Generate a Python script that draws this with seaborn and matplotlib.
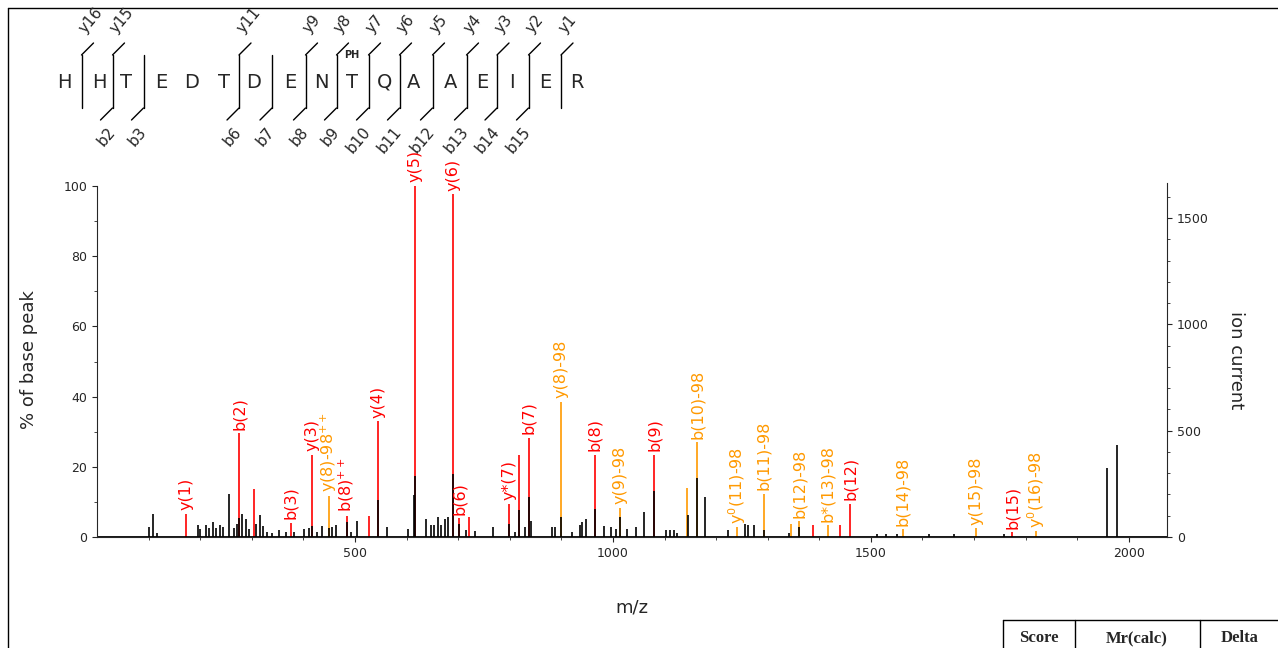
import matplotlib
matplotlib.use("Agg")
import matplotlib.pyplot as plt
import seaborn as sns
import pandas as pd

# ---- matched (labelled) fragment peaks ----
ion_mz = [173, 276, 305, 376, 417, 449, 484, 528, 545, 616, 690, 702, 721, 798, 818, 837,
          900, 965, 1013, 1080, 1144, 1163, 1240, 1292, 1346, 1361, 1387, 1416, 1441, 1460,
          1562, 1703, 1774, 1821]
ion_pct = [6.6, 29.6, 13.7, 4.0, 23.4, 11.7, 6.0, 6.0, 33.0, 100, 97.7, 5.3, 5.6, 9.5, 23.4, 28.3,
           38.5, 23.4, 8.3, 23.4, 14.0, 27.0, 2.8, 12.3, 3.7, 4.5, 3.4, 3.4, 3.4, 9.4,
           2.2, 2.5, 1.4, 1.7]
ion_kind = ["r", "r", "r", "r", "r", "o", "r", "r", "r", "r", "r", "r", "r", "r", "r", "r",
            "o", "r", "o", "r", "o", "o", "o", "o", "o", "o", "r", "o", "r", "r",
            "o", "o", "r", "o"]
ion_label = ["y(1)", "b(2)", "", "b(3)", "y(3)", "y(8)-98$^{++}$", "b(8)$^{++}$", "", "y(4)", "y(5)", "y(6)", "b(6)", "", "y*(7)", "", "b(7)",
             "y(8)-98", "b(8)", "y(9)-98", "b(9)", "", "b(10)-98", "y$^{0}$(11)-98", "b(11)-98", "", "b(12)-98", "", "b*(13)-98", "", "b(12)",
             "b(14)-98", "y(15)-98", "b(15)", "y$^{0}$(16)-98"]

# ---- raw (black) peaks ----
raw_mz = [100, 109, 116, 195, 199, 211, 217, 225, 231, 238, 245, 256, 265, 271, 276, 282, 288, 295,
          308, 315, 321, 330, 340, 353, 366, 382, 401, 411, 417, 427, 436, 449, 456, 463, 484, 492,
          503, 545, 562, 603, 614, 616, 638, 648, 653, 661, 667, 674, 680, 690, 702, 716, 732, 768,
          798, 810, 818, 829, 837, 842, 881, 887, 900, 921, 936, 941, 948, 965, 982, 996, 1006,
          1013, 1027, 1044, 1060, 1080, 1102, 1110, 1119, 1125, 1145, 1163, 1179, 1223, 1256,
          1262, 1274, 1292, 1342, 1361, 1512, 1529, 1550, 1612, 1661, 1758, 1958, 1978]
raw_pct = [2.9, 6.6, 1.0, 3.4, 2.2, 3.4, 2.7, 4.3, 2.7, 3.4, 2.8, 12.3, 2.7, 3.8, 5.5, 6.6, 5.2, 2.4,
           3.8, 6.2, 3.1, 1.4, 1.2, 1.9, 1.4, 1.4, 2.4, 2.7, 3.1, 1.4, 3.1, 2.7, 2.8, 3.3, 4.3, 1.4,
           4.7, 10.4, 2.8, 2.4, 11.9, 17.4, 5.2, 3.3, 3.3, 5.7, 3.3, 5.2, 5.7, 17.9, 3.8, 1.9, 1.7, 2.8,
           3.8, 1.4, 7.6, 2.8, 11.4, 4.7, 2.8, 2.8, 5.7, 1.4, 3.3, 4.3, 5.2, 8.1, 3.0, 2.8, 2.3,
           5.7, 2.4, 2.8, 7.1, 13.2, 1.9, 1.9, 1.9, 1.1, 6.2, 16.8, 11.3, 1.9, 3.7,
           3.3, 3.3, 1.9, 1.0, 2.8, 0.9, 0.9, 0.9, 0.9, 0.9, 0.9, 19.6, 26.2]

# ---- peptide header ----
residues = list("HHTEDTDENTQAAEIER")
res_x = [64, 99, 126, 161, 192, 224, 254, 290, 321, 352, 385, 414, 451, 482, 512, 545, 577]
y_ions = {0: "y16", 1: "y15", 5: "y11", 7: "y9", 8: "y8", 9: "y7", 10: "y6", 11: "y5",
          12: "y4", 13: "y3", 14: "y2", 15: "y1"}
b_ions = {1: "b2", 2: "b3", 5: "b6", 6: "b7", 7: "b8", 8: "b9", 9: "b10", 10: "b11",
          11: "b12", 12: "b13", 13: "b14", 14: "b15"}

colors = {"r": "#ff0000", "o": "#ff9900"}
BASE_ION = 1651

sns.set_style("ticks")
plt.rcParams["font.family"] = ["DejaVu Sans"]

fig = plt.figure(figsize=(12.78, 6.48), dpi=100)

# overlay in pixel coordinates for header, frame, table
ov = fig.add_axes([0, 0, 1, 1])
ov.set_xlim(0, 1278)
ov.set_ylim(648, 0)
ov.axis("off")
ov.plot([8, 1278], [8, 8], color="black", lw=1)
ov.plot([8, 8], [8, 648], color="black", lw=1)
for i, (r, x) in enumerate(zip(residues, res_x)):
    ov.text(x, 82, r, ha="center", va="center", fontsize=14)
ov.text(352, 55, "PH", ha="center", va="center", fontsize=7, fontweight="bold")
for i in range(len(residues) - 1):
    if i not in y_ions and i not in b_ions:
        continue
    cx = (res_x[i] + res_x[i + 1]) / 2
    ov.plot([cx, cx], [55, 108], color="black", lw=1)
    if i in y_ions:
        ov.plot([cx, cx + 12], [55, 43], color="black", lw=1)
        ov.text(cx + 6, 36, y_ions[i], rotation=50, ha="left", va="bottom", fontsize=11,
                rotation_mode="anchor")
    if i in b_ions:
        ov.plot([cx, cx - 12], [108, 120], color="black", lw=1)
        ov.text(cx - 6, 124, b_ions[i], rotation=50, ha="right", va="top", fontsize=11,
                rotation_mode="anchor")

# results table fragment
ov.plot([1003, 1278], [620, 620], color="black", lw=1)
for x in [1003, 1075, 1200]:
    ov.plot([x, x], [620, 648], color="black", lw=1)
ov.text(1039, 638, "Score", ha="center", va="center", fontsize=12, fontweight="bold", family="Liberation Serif")
ov.text(1137, 638, "Mr(calc)", ha="center", va="center", fontsize=12, fontweight="bold", family="Liberation Serif")
ov.text(1240, 638, "Delta", ha="center", va="center", fontsize=12, fontweight="bold", family="Liberation Serif")

ax = fig.add_axes([97 / 1278, 111 / 648, 1070 / 1278, 354 / 648])
ymax = 100 * 354 / 351
ion_df = pd.DataFrame({"mz": ion_mz, "pct": ion_pct, "kind": ion_kind, "label": ion_label})
raw_df = pd.DataFrame({"mz": raw_mz, "pct": raw_pct})

for kind, grp in ion_df.groupby("kind"):
    ax.vlines(grp["mz"], 0, grp["pct"], color=colors[kind], lw=1.2)
ax.vlines(raw_df["mz"], 0, raw_df["pct"], color="black", lw=1.2)
for _, row in ion_df.iterrows():
    if row["label"]:
        ax.text(row["mz"], row["pct"] + 1, row["label"], rotation=90, ha="center", va="bottom",
                color=colors[row["kind"]], fontsize=11.5)

ax.axhline(0, color="black", lw=2)
ax.set_xlim(0, 2074)
ax.set_ylim(0, ymax)
ax.set_xticks([500, 1000, 1500, 2000])
ax.set_xticks(range(100, 2100, 100), minor=True)
ax.set_yticks(range(0, 101, 20))
ax.set_yticks(range(0, 101, 10), minor=True)
ax.tick_params(labelsize=9)
ax.set_xlabel("m/z", fontsize=13, labelpad=28)
ax.set_ylabel("% of base peak", fontsize=13, labelpad=18)
sns.despine(ax=ax, top=True, right=True)
ax.spines["left"].set_bounds(0, 100)

ax2 = ax.twinx()
ax2.set_ylim(0, ymax * BASE_ION / 100)
ax2.set_yticks([0, 500, 1000, 1500])
ax2.set_yticks(range(0, 1700, 100), minor=True)
ax2.tick_params(labelsize=9)
ax2.set_ylabel("ion current", fontsize=13, rotation=270, labelpad=26)
for s in ["top", "left", "bottom"]:
    ax2.spines[s].set_visible(False)

fig.savefig("out.png", dpi=100)
